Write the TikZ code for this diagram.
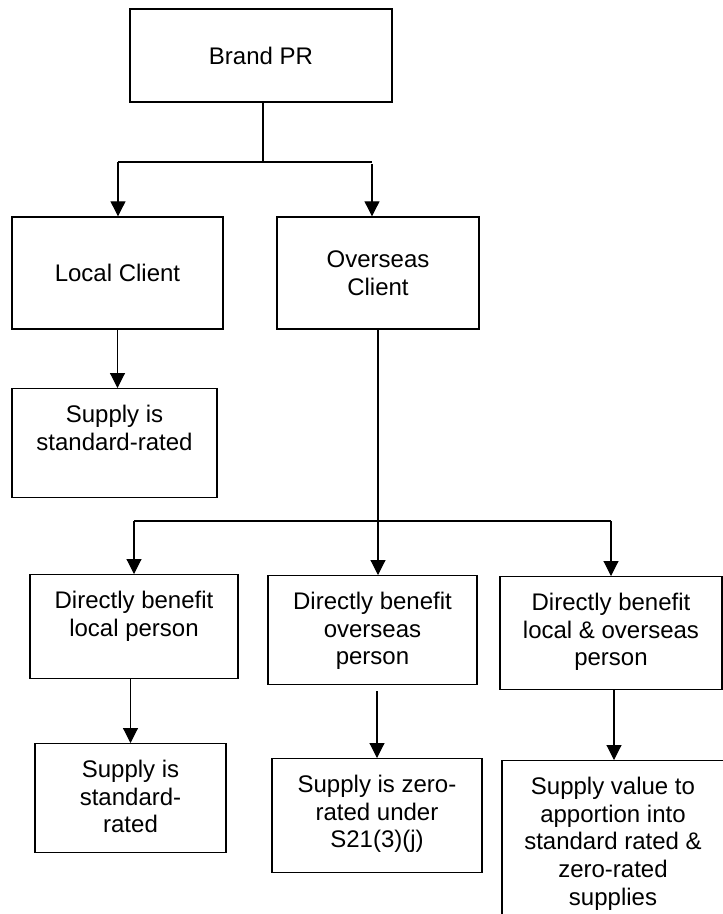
\documentclass[tikz,border=0pt]{standalone}
\usepackage{fontspec}
\setmainfont{Liberation Sans}
\usetikzlibrary{arrows.meta,positioning}

\tikzset{
    box/.style={draw=black, line width=1.4pt, fill=white, inner sep=0pt, align=center},
    link/.style={line width=1.1pt},
    arr/.style={line width=1.1pt, -{Triangle[length=15pt,width=15pt]}}
}
% text hanging from the top of a box
\newcommand{\boxtxt}[3]{\parbox[c][#2][t]{#1}{\centering\rule{0pt}{34pt}#3}}

\begin{document}
\begin{tikzpicture}[x=1pt, y=-1pt, font=\fontsize{24}{27.6}\selectfont]

\useasboundingbox (0,0) rectangle (723,914);

% top row
\node[box, minimum width=262pt, minimum height=93pt] (brand) at (261,55.5) {Brand PR};
\node[box, minimum width=211pt, minimum height=112pt] (local) at (117.5,273) {Local Client};
\node[box, minimum width=202pt, minimum height=112pt] (over) at (378,273) {Overseas\\Client};
\node[box, anchor=north] (supA) at (114.5,388) {\boxtxt{205pt}{109pt}{Supply is\\standard-rated}};

% benefit row
\node[box, anchor=north] (dbloc) at (134,574) {\boxtxt{208pt}{104pt}{Directly benefit\\local person}};
\node[box, anchor=north] (dbover) at (372.5,575) {\boxtxt{209pt}{109pt}{Directly benefit\\overseas\\person}};
\node[box, anchor=north] (dbboth) at (611,576) {\boxtxt{222pt}{113pt}{Directly benefit\\local \& overseas\\person}};

% outcome row
\node[box, anchor=north] (supB) at (130.5,743) {\boxtxt{191pt}{109pt}{Supply is\\standard-\\rated}};
\node[box, anchor=north] (zero) at (377,758) {\boxtxt{210pt}{114pt}{Supply is zero-\\rated under\\S21(3)(j)}};
\node[box, anchor=north] (appor) at (613,760) {\boxtxt{222pt}{170pt}{Supply value to\\apportion into\\standard rated \&\\zero-rated\\supplies}};

% first split
\coordinate (busAl) at (118,162);
\coordinate (busAr) at (372,162);
\draw[link] ([xshift=2pt]brand.south) -- ([xshift=2pt]brand.south |- busAl);
\draw[link] (busAl) -- (busAr);
\draw[arr] (busAl) -- (busAl |- local.north);
\draw[arr] ([yshift=-2pt]busAr) -- (busAr |- over.north);
\draw[arr] (local.south) -- (local.south |- supA.north);

% second split
\coordinate (busBl) at (134,521);
\coordinate (busBr) at (611,521);
\draw[link] (busBl) -- (busBr);
\draw[arr] (over.south) -- (over.south |- dbover.north);
\draw[arr] (busBl) -- (dbloc.north);
\draw[arr] (busBr) -- (dbboth.north);

\draw[arr] (dbloc.south -| supB.north) -- (supB.north);
\draw[arr] ([yshift=-6pt]dbover.south -| zero.north) -- (zero.north);
\draw[arr] ([xshift=3pt]dbboth.south) -- ([xshift=3pt]dbboth.south |- appor.north);

\end{tikzpicture}
\end{document}
